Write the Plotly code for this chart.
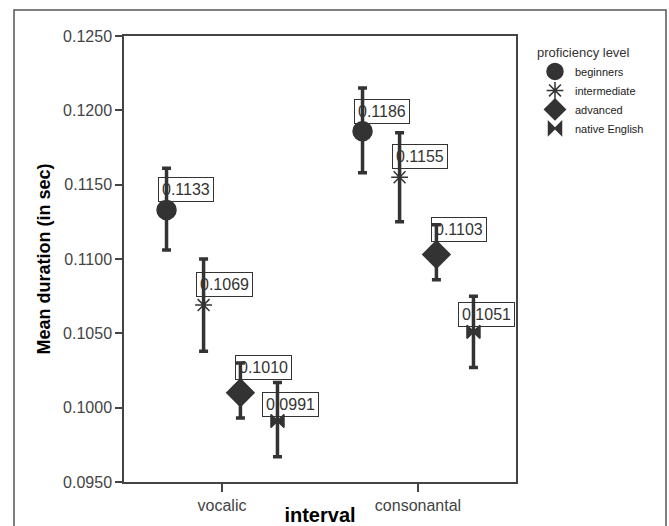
import plotly.graph_objects as go

# ---- data ----
categories = ["vocalic", "consonantal"]
series = ["beginners", "intermediate", "advanced", "native English"]
means = {
    "beginners":      [0.1133, 0.1186],
    "intermediate":   [0.1069, 0.1155],
    "advanced":       [0.1010, 0.1103],
    "native English": [0.0991, 0.1051],
}
upper = {
    "beginners":      [0.1161, 0.1215],
    "intermediate":   [0.1100, 0.1185],
    "advanced":       [0.1030, 0.1123],
    "native English": [0.1017, 0.1075],
}
lower = {
    "beginners":      [0.1106, 0.1158],
    "intermediate":   [0.1038, 0.1125],
    "advanced":       [0.0993, 0.1086],
    "native English": [0.0967, 0.1027],
}
y_ticks = [0.0950, 0.1000, 0.1050, 0.1100, 0.1150, 0.1200, 0.1250]

# ---- style ----
dark = "#333333"
symbols = {"beginners": "circle", "intermediate": "asterisk-open",
           "advanced": "diamond", "native English": "bowtie"}
sizes = {"beginners": 19, "intermediate": 14, "advanced": 21, "native English": 13}
offsets = [-0.283, -0.094, 0.094, 0.283]
label_shift = {"beginners": (-9, 20), "intermediate": (-8, 21),
               "advanced": (-5, 25), "native English": (-15, 17)}

fig = go.Figure()
annotations = []
for i, s in enumerate(series):
    xs = [c + offsets[i] for c in range(len(categories))]
    m = means[s]
    ep = [u - v for u, v in zip(upper[s], m)]
    em = [v - l for v, l in zip(m, lower[s])]
    fig.add_trace(go.Scatter(
        x=xs, y=m, mode="markers", name=s,
        marker=dict(symbol=symbols[s], size=sizes[s], color=dark,
                    line=dict(color=dark, width=1.5)),
        error_y=dict(type="data", symmetric=False, array=ep, arrayminus=em,
                     color=dark, thickness=3.5, width=4.5),
    ))
    dx, dy = label_shift[s]
    for x, v in zip(xs, m):
        annotations.append(dict(
            x=x, y=v, xref="x", yref="y", text=f"{v:.4f}", showarrow=False,
            xanchor="left", yanchor="middle", xshift=dx, yshift=dy,
            font=dict(family="Liberation Sans, Arial", size=16, color=dark),
            bordercolor=dark, borderwidth=1, borderpad=3,
        ))

W, H = 669, 526
ml, mr, mt, mb = 124, 153, 36, 44
pw, ph = W - ml - mr, H - mt - mb

fig.update_layout(
    width=W, height=H,
    margin=dict(l=ml, r=mr, t=mt, b=mb, pad=0, autoexpand=False),
    paper_bgcolor="white", plot_bgcolor="white",
    font=dict(family="Liberation Sans, Arial", color=dark),
    annotations=annotations,
    showlegend=True,
    legend=dict(
        x=(535 - ml) / pw, y=(H - mb - 40) / ph, xanchor="left", yanchor="top",
        title=dict(text="proficiency level", font=dict(size=13, color=dark)),
        font=dict(size=11, color="#222222"),
        tracegroupgap=0, itemwidth=30, bgcolor="rgba(0,0,0,0)",
    ),
    xaxis=dict(
        range=[-0.5, 1.5], tickvals=list(range(len(categories))), ticktext=categories,
        showline=True, linecolor="#444444", linewidth=1.5, mirror=True,
        ticks="outside", ticklen=8, tickcolor="#444444", tickwidth=1.5,
        automargin=False,
        showgrid=False, zeroline=False,
        tickfont=dict(size=16, color="#444444"),
        title=dict(text="<b>interval</b>", font=dict(size=20, color="black"), standoff=3),
    ),
    yaxis=dict(
        range=[0.0950, 0.1250], tickvals=y_ticks,
        ticktext=[f"{t:.4f}" for t in y_ticks],
        showline=True, linecolor="#444444", linewidth=1.5, mirror=True,
        ticks="outside", ticklen=7, tickcolor="#444444", tickwidth=1.5,
        automargin=False,
        showgrid=False, zeroline=False,
        tickfont=dict(size=16, color="#444444"),
        title=dict(text="<b>Mean duration (in sec)</b>", font=dict(size=18, color="black"),
                   standoff=8),
    ),
    shapes=[dict(type="rect", xref="paper", yref="paper",
                 x0=(14 - ml) / pw, x1=(666 - ml) / pw,
                 y0=(H - mb - 540) / ph, y1=(H - mb - 10) / ph,
                 line=dict(color="#555555", width=1.5), layer="below")],
)

fig.write_html("out.html")
